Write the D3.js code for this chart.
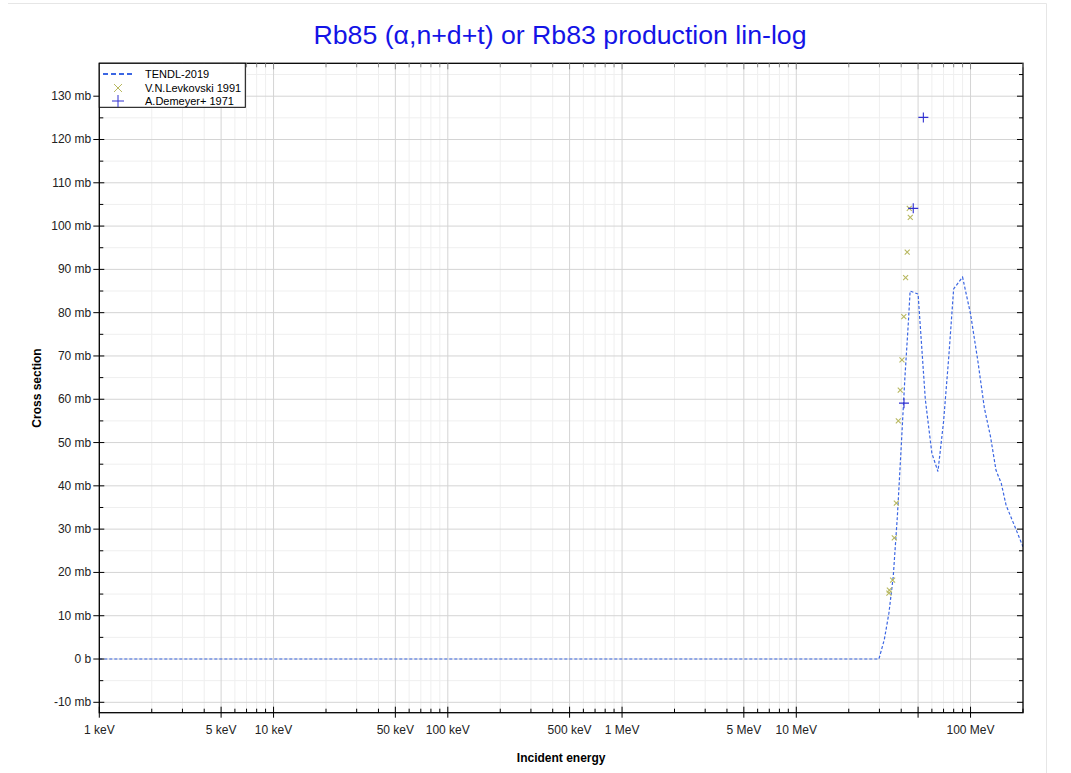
<!DOCTYPE html>
<html><head><meta charset="utf-8">
<script src="https://cdn.jsdelivr.net/npm/d3@7"></script>
<style>body{margin:0;background:#fff}svg{display:block;font-family:"Liberation Sans",Arial,sans-serif}</style>
</head><body><svg id="c" width="1071" height="773"></svg>
<script>
// Data (energies in MeV, cross sections in mb)
const tendlE  = [0.001, 29.8, 32, 34, 36, 38, 40, 42, 44, 45, 50, 55, 60, 65, 70, 75, 80, 90, 100, 110, 120, 130, 140, 150, 160, 180, 200];
const tendlXS = [0, 0, 4.5, 10.6, 19, 32.8, 49, 65, 78, 85, 84.3, 60, 47.5, 43.3, 54.8, 69.8, 85.5, 88.2, 79.7, 69, 58, 51.5, 43.6, 40.6, 35.5, 30.5, 25.9];
const levE  = [34.0, 34.2, 35.7, 36.5, 37.5, 38.5, 39.5, 40.4, 41.4, 42.4, 43.3, 44.5, 45.1];
const levXS = [15.2, 15.9, 18.2, 28.0, 36.0, 55.0, 62.1, 69.1, 79.1, 88.1, 94.0, 104.1, 102.0];
const demE  = [41.5, 46.9, 53.6];
const demXS = [59.1, 104.1, 125.1];
const xTickVals   = [0.001, 0.005, 0.01, 0.05, 0.1, 0.5, 1, 5, 10, 100];
const xTickLabels = ["1 keV", "5 keV", "10 keV", "50 keV", "100 keV", "500 keV", "1 MeV", "5 MeV", "10 MeV", "100 MeV"];
const yTickVals   = [-10, 0, 10, 20, 30, 40, 50, 60, 70, 80, 90, 100, 110, 120, 130];
const yTickLabels = ["-10 mb", "0 b", "10 mb", "20 mb", "30 mb", "40 mb", "50 mb", "60 mb", "70 mb", "80 mb", "90 mb", "100 mb", "110 mb", "120 mb", "130 mb"];
const legendNames = ["TENDL-2019", "V.N.Levkovski 1991", "A.Demeyer+ 1971"];
const titleText = "Rb85 (\u03b1,n+d+t) or Rb83 production lin-log";

const svg = d3.select("#c");
const L = 99.3, R = 1023, T = 63.3, B = 712.7;
const x = d3.scaleLog().domain([0.001, 200]).range([L, R]);
const y = d3.scaleLinear().domain([-12.4, 137.6]).range([B, T]);

// outer faint frame
svg.append("path").attr("d", `M8,3.5H1046.5V773`).attr("fill", "none").attr("stroke", "#e6e6e6");

// grid
const minorX = [], majorX = [];
for (let d = 0.001; d < 1000; d *= 10) {
  for (let k = 1; k <= 9; k++) {
    const v = d * k;
    if (v < 0.001 || v > 200.0001) continue;
    if (k === 1 || k === 5) majorX.push(v); else minorX.push(v);
  }
}
const g = svg.append("g");
g.selectAll(".gxm").data(minorX).join("line").attr("x1", d => x(d)).attr("x2", d => x(d)).attr("y1", T).attr("y2", B).attr("stroke", "#efefef");
const yMinor = d3.range(-10, 136, 5).filter(v => v % 10 !== 0);
g.selectAll(".gym").data(yMinor).join("line").attr("x1", L).attr("x2", R).attr("y1", d => y(d)).attr("y2", d => y(d)).attr("stroke", "#efefef");
g.selectAll(".gxM").data(majorX).join("line").attr("x1", d => x(d)).attr("x2", d => x(d)).attr("y1", T).attr("y2", B).attr("stroke", "#d4d4d4");
g.selectAll(".gyM").data(yTickVals).join("line").attr("x1", L).attr("x2", R).attr("y1", d => y(d)).attr("y2", d => y(d)).attr("stroke", "#d4d4d4");

// clip
svg.append("clipPath").attr("id", "clip").append("rect").attr("x", L).attr("y", T).attr("width", R - L).attr("height", B - T);

// TENDL line
const line = d3.line().x((d, i) => x(tendlE[i])).y((d, i) => y(tendlXS[i]));
svg.append("path").datum(tendlE).attr("clip-path", "url(#clip)")
  .attr("d", line).attr("fill", "none").attr("stroke", "#3b66e3").attr("stroke-width", 1.2).attr("stroke-dasharray", "3,2");

// Levkovski markers (x)
const cx = "#b8b860";
svg.append("g").selectAll("path").data(levE).join("path")
  .attr("transform", (d, i) => `translate(${x(d)},${y(levXS[i])})`)
  .attr("d", "M-2.5,-2.5L2.5,2.5M-2.5,2.5L2.5,-2.5").attr("stroke", cx).attr("stroke-width", 1.1).attr("fill", "none");
// Demeyer markers (+)
const cp = "#3030d0";
svg.append("g").selectAll("path").data(demE).join("path")
  .attr("transform", (d, i) => `translate(${x(d)},${y(demXS[i])})`)
  .attr("d", "M-5,0H5M0,-5V5").attr("stroke", cp).attr("stroke-width", 1.1).attr("fill", "none");

// frame
svg.append("rect").attr("x", L).attr("y", T).attr("width", R - L).attr("height", B - T).attr("fill", "none").attr("stroke", "#000").attr("stroke-width", 1.3);

// x ticks
const tk = svg.append("g").attr("stroke", "#000");
tk.selectAll(".xm").data(minorX).join("line").attr("x1", d => x(d)).attr("x2", d => x(d)).attr("y1", B).attr("y2", B - 4);
tk.selectAll(".xM").data(majorX).join("line").attr("x1", d => x(d)).attr("x2", d => x(d)).attr("y1", B + 5).attr("y2", B - 6);
tk.selectAll(".xmt").data(minorX).join("line").attr("x1", d => x(d)).attr("x2", d => x(d)).attr("y1", T).attr("y2", T + 4).attr("stroke", "#888");
tk.selectAll(".xMt").data(majorX).join("line").attr("x1", d => x(d)).attr("x2", d => x(d)).attr("y1", T).attr("y2", T + 6).attr("stroke", "#888");
// y ticks
tk.selectAll(".ym").data(yMinor).join("line").attr("x1", L).attr("x2", L + 4).attr("y1", d => y(d)).attr("y2", d => y(d));
tk.selectAll(".yM").data(yTickVals).join("line").attr("x1", L - 6).attr("x2", L + 5).attr("y1", d => y(d)).attr("y2", d => y(d));
tk.selectAll(".ymr").data(yMinor).join("line").attr("x1", R - 4).attr("x2", R).attr("y1", d => y(d)).attr("y2", d => y(d));
tk.selectAll(".yMr").data(yTickVals).join("line").attr("x1", R - 6).attr("x2", R).attr("y1", d => y(d)).attr("y2", d => y(d));

// tick labels
svg.append("g").selectAll("text").data(xTickVals).join("text")
  .attr("x", d => x(d)).attr("y", B + 21).attr("text-anchor", "middle").attr("font-size", 12).attr("fill", "#222")
  .text((d, i) => xTickLabels[i]);
svg.append("g").selectAll("text").data(yTickVals).join("text")
  .attr("x", L - 8).attr("y", d => y(d) + 4).attr("text-anchor", "end").attr("font-size", 12).attr("fill", "#222")
  .text((d, i) => yTickLabels[i]);

// axis titles
svg.append("text").attr("x", (L + R) / 2).attr("y", 762).attr("text-anchor", "middle").attr("font-size", 12).attr("font-weight", "bold").text("Incident energy");
svg.append("text").attr("transform", `translate(41,${(T + B) / 2}) rotate(-90)`).attr("text-anchor", "middle").attr("font-size", 12).attr("font-weight", "bold").text("Cross section");

// title
svg.append("text").attr("x", 560).attr("y", 44).attr("text-anchor", "middle").attr("font-size", 26.7).attr("fill", "#1414e6").text(titleText);

// legend
const lg = svg.append("g");
lg.append("rect").attr("x", L).attr("y", T).attr("width", 146).attr("height", 44).attr("fill", "#fff").attr("stroke", "#000").attr("stroke-width", 1);
lg.append("line").attr("x1", 103).attr("x2", 133).attr("y1", 74).attr("y2", 74).attr("stroke", "#3b66e3").attr("stroke-width", 1.8).attr("stroke-dasharray", "5,3");
lg.append("path").attr("d", "M-4,-4L4,4M-4,4L4,-4").attr("transform", "translate(118,88)").attr("stroke", cx).attr("fill", "none");
lg.append("path").attr("d", "M-6,0H6M0,-6V6").attr("transform", "translate(118,101)").attr("stroke", cp).attr("fill", "none");
lg.selectAll("text").data(legendNames).join("text").attr("x", 145).attr("y", (d, i) => 78 + i * 13.5).attr("font-size", 11).attr("fill", "#000").text(d => d);
</script></body></html>
